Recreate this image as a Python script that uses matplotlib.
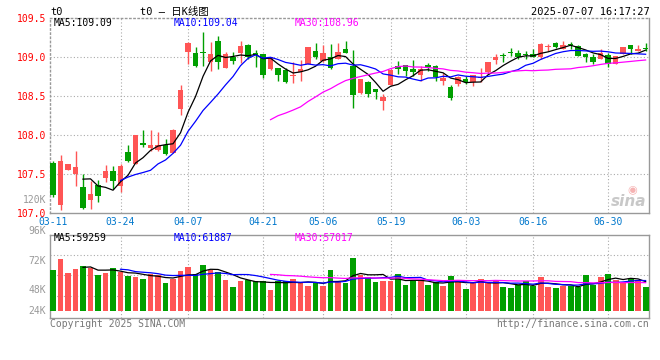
import numpy as np
import matplotlib.pyplot as plt

# daily candles, t0 main contract, 2025-03-11 .. 2025-07-07
opens = [107.641, 107.098, 107.547, 107.504, 107.329, 107.158, 107.355, 107.440, 107.530, 107.342,
         107.778, 107.632, 107.902, 107.833, 107.803, 107.876, 107.769, 108.333, 109.068, 109.051,
         109.068, 108.944, 109.209, 108.855, 109.004, 109.060, 109.154, 109.051, 109.043, 108.846,
         108.859, 108.838, 108.752, 108.808, 108.910, 109.081, 108.949, 109.000, 108.974, 109.107,
         108.893, 108.538, 108.684, 108.594, 108.440, 108.637, 108.889, 108.902, 108.850, 108.774,
         108.902, 108.889, 108.697, 108.620, 108.650, 108.718, 108.679, 108.726, 108.812, 108.966,
         109.030, 109.064, 109.051, 109.043, 109.043, 109.000, 109.132, 109.179, 109.103, 109.171,
         109.150, 109.043, 109.000, 108.979, 109.030, 108.910, 109.043, 109.158, 109.085, 109.115]
closes = [107.226, 107.671, 107.620, 107.585, 107.056, 107.244, 107.214, 107.530, 107.402, 107.598,
          107.662, 108.004, 107.872, 107.872, 107.876, 107.752, 108.060, 108.581, 109.188, 108.889,
          109.051, 109.047, 108.944, 109.047, 108.957, 109.145, 109.000, 109.026, 108.774, 108.996,
          108.765, 108.675, 108.774, 108.846, 109.128, 108.996, 109.060, 108.859, 109.064, 109.060,
          108.517, 108.722, 108.530, 108.547, 108.491, 108.838, 108.846, 108.825, 108.808, 108.846,
          108.868, 108.744, 108.731, 108.470, 108.739, 108.679, 108.774, 108.744, 108.932, 109.004,
          109.009, 109.051, 108.996, 109.026, 109.000, 109.171, 109.150, 109.137, 109.158, 109.154,
          109.021, 108.996, 108.944, 109.051, 108.910, 109.017, 109.128, 109.103, 109.103, 109.103]
highs = [107.671, 107.748, 107.632, 107.791, 107.504, 107.406, 107.415, 107.607, 107.598, 107.632,
         107.876, 108.004, 108.068, 108.068, 108.034, 107.953, 108.077, 108.645, 109.201, 109.137,
         109.329, 109.201, 109.278, 109.064, 109.073, 109.205, 109.171, 109.094, 109.043, 108.996,
         108.859, 108.859, 108.932, 108.966, 109.128, 109.179, 109.158, 109.167, 109.179, 109.209,
         109.094, 108.722, 108.697, 108.594, 108.530, 108.846, 108.953, 108.902, 108.966, 108.893,
         108.923, 108.902, 108.795, 108.637, 108.752, 108.761, 108.774, 108.859, 108.944, 109.043,
         109.051, 109.124, 109.094, 109.081, 109.103, 109.179, 109.171, 109.201, 109.209, 109.201,
         109.158, 109.051, 109.043, 109.103, 109.051, 109.017, 109.128, 109.158, 109.158, 109.179]
lows = [107.201, 107.030, 107.547, 107.342, 107.043, 107.043, 107.137, 107.397, 107.308, 107.269,
        107.650, 107.620, 107.842, 107.791, 107.791, 107.739, 107.769, 108.261, 108.910, 108.880,
        108.893, 108.816, 108.846, 108.855, 108.915, 108.923, 108.974, 108.880, 108.731, 108.829,
        108.688, 108.667, 108.667, 108.697, 108.910, 108.974, 108.936, 108.846, 108.974, 109.051,
        108.346, 108.530, 108.483, 108.462, 108.316, 108.637, 108.782, 108.761, 108.761, 108.697,
        108.816, 108.697, 108.641, 108.453, 108.624, 108.650, 108.624, 108.679, 108.782, 108.910,
        108.944, 109.009, 108.979, 108.979, 109.000, 108.974, 109.085, 109.124, 109.103, 109.103,
        109.009, 108.932, 108.915, 108.979, 108.880, 108.910, 109.043, 109.043, 109.085, 109.085]
volumes = [82960, 105400, 77520, 85000, 91120, 87040, 72760, 77520, 87040, 78880,
           70720, 69360, 64600, 74120, 72760, 57120, 64600, 80920, 89080, 75480,
           93840, 82960, 78880, 63240, 48280, 60520, 63240, 60520, 60520, 42840,
           60520, 60520, 64600, 57120, 50320, 55760, 50320, 82960, 58480, 57120,
           108120, 72760, 69360, 58480, 60520, 60520, 75480, 52360, 60520, 60520,
           52360, 58480, 50320, 70720, 62560, 44200, 57120, 64600, 55760, 60520,
           48280, 46240, 52360, 60520, 50320, 68680, 48280, 46240, 50320, 50320,
           48280, 72760, 52360, 68680, 75480, 62560, 58480, 64600, 62560, 48280]

date_ticks = [0, 9, 18, 28, 36, 45, 55, 64, 74]
date_labels = ['03-11', '03-24', '04-07', '04-21', '05-06', '05-19', '06-03', '06-16', '06-30']
price_ticks = [107.0, 107.5, 108.0, 108.5, 109.0, 109.5]

ma_price_txt = ['MA5:109.09', 'MA10:109.04', 'MA30:108.96']
ma_vol_txt = ['MA5:59259', 'MA10:61887', 'MA30:57017']

RED = '#ff5555'
GREEN = '#009f00'
GRID = '#aaaaaa'
MONO = 'DejaVu Sans Mono'

o = np.array(opens); c = np.array(closes)
h = np.array(highs); l = np.array(lows)
v = np.array(volumes, dtype=float)
x = np.arange(len(c))
up = c >= o
cols = np.where(up, RED, GREEN)


def ma(a, n):
    out = np.full(len(a), np.nan)
    for i in range(n - 1, len(a)):
        out[i] = a[i - n + 1:i + 1].mean()
    return out


W, H = 660, 360
fig = plt.figure(figsize=(6.6, 3.6), dpi=100)


def fx(px):
    return px / W


def fy(py):
    return 1 - py / H


ax = fig.add_axes([fx(50), fy(212.7), fx(599), (212.7 - 18.3) / H])
axv = fig.add_axes([fx(50), fy(318.3), fx(599), (318.3 - 234.7) / H])

# candles
ax.vlines(x, l, h, colors=cols, linewidth=1, zorder=3)
body = np.maximum(np.abs(c - o), 0.007)
bottom = np.minimum(o, c)
ax.bar(x, body, bottom=bottom, width=0.72, color=cols, linewidth=0, zorder=4)

for n, colr in [(5, 'black'), (10, '#0000ff'), (30, '#ff00ff')]:
    ax.plot(x, ma(c, n), color=colr, linewidth=0.9, zorder=5)

ax.set_xlim(-0.4, 79.45)
ax.set_ylim(107.0, 109.5)
ax.set_yticks(price_ticks)
ax.set_yticklabels(['%.1f' % t for t in price_ticks], color='red', fontsize=7, family=MONO)
ax.set_xticks(date_ticks)
ax.set_xticklabels(date_labels, color='#0077cc', fontsize=7, family=MONO)
ax.tick_params(length=0, pad=3)
for t in [107.5, 108.0, 108.5, 109.0]:
    ax.axhline(t, color=GRID, linestyle=(0, (1, 2)), linewidth=0.8, zorder=1)
for t in date_ticks[1:]:
    ax.axvline(t, color=GRID, linestyle=(0, (1, 2)), linewidth=0.8, zorder=1)

# volume
axv.bar(x, v, width=0.78, color=cols, linewidth=0, zorder=3)
for n, colr in [(5, 'black'), (10, '#0000ff'), (30, '#ff00ff')]:
    axv.plot(x, ma(v, n), color=colr, linewidth=0.9, zorder=5)
axv.set_xlim(-0.4, 79.45)
axv.set_ylim(-15640, 155040)
axv.set_xticks([])
axv.set_yticks([])
for t in [113560, 72760, 30600]:
    axv.axhline(t, color=GRID, linestyle=(0, (1, 2)), linewidth=0.8, zorder=1)
for t in date_ticks[1:]:
    axv.axvline(t, color=GRID, linestyle=(0, (1, 2)), linewidth=0.8, zorder=1)

for a in (ax, axv):
    for s in a.spines.values():
        s.set_color('#999999')
        s.set_linewidth(1)
ax.spines['top'].set_linestyle((0, (1, 2)))
ax.spines['left'].set_linestyle((0, (1, 2)))

# texts
fig.text(fx(50), fy(12), 't0', fontsize=7.5, family=MONO, va='center')
fig.text(fx(140), fy(12), 't0 – 日K线图', fontsize=7.5,
         family=[MONO, 'Noto Sans CJK SC'], va='center')
fig.text(fx(650), fy(12), '2025-07-07 16:17:27', fontsize=7.5, family=MONO,
         va='center', ha='right')

for txt, px, colr in zip(ma_price_txt, [54, 174, 295], ['black', '#0000ff', '#ff00ff']):
    fig.text(fx(px), fy(23.5), txt, fontsize=7, family=MONO, color=colr, va='center')
for txt, px, colr in zip(ma_vol_txt, [54, 174, 295], ['black', '#0000ff', '#ff00ff']):
    fig.text(fx(px), fy(238), txt, fontsize=7, family=MONO, color=colr, va='center')

for txt, py in [('120K', 200), ('96K', 231), ('72K', 261), ('48K', 290), ('24K', 310.5)]:
    fig.text(fx(46), fy(py), txt, fontsize=7, family=MONO, color='#999999',
             va='center', ha='right')

fig.text(fx(50), fy(324), 'Copyright 2025 SINA.COM', fontsize=7, family=MONO,
         color='#777777', va='center')
fig.text(fx(649), fy(324), 'http://finance.sina.com.cn', fontsize=7, family=MONO,
         color='#777777', va='center', ha='right')

# watermark
fig.text(fx(646), fy(201), 'sina', fontsize=11, fontweight='bold', style='italic',
         color='#bbbbbb', alpha=0.8, va='center', ha='right')
fig.text(fx(632), fy(190), '◉', fontsize=8, color='#f4a0a0', alpha=0.8,
         va='center', ha='center')

fig.savefig('out.png', dpi=100)
